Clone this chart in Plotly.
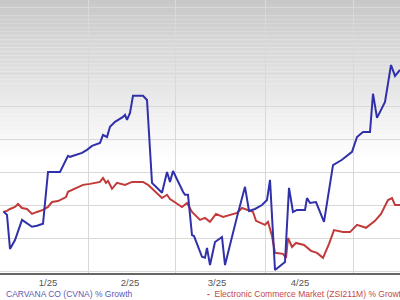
import plotly.graph_objects as go

# ---- data (trading-day index, % growth) ----
tick_labels = ["1/25", "2/25", "3/25", "4/25", "5/25"]
tick_days = [12, 32.5, 54.25, 75, 98]
grid_days = [0, 22, 43.75, 66.25, 88.25]

cvna_day = [1.0, 1.75, 2.5, 3.75, 5.5, 6.25, 8.0, 9.25, 10.75, 12.0, 15.0, 17.0, 17.5, 20.5,
            21.75, 23.0, 25.0, 25.75, 26.75, 27.5, 28.75, 30.75, 31.25, 31.75, 32.5, 33.25,
            35.75, 36.75, 37.0, 37.5, 38.0, 40.5, 41.75, 42.5, 43.25, 45.75, 46.25, 47.0,
            48.0, 48.5, 50.5, 51.25, 51.75, 52.5, 53.75, 55.5, 56.25, 59.25, 61.25, 62.25,
            63.75, 65.5, 66.75, 67.5, 68.75, 71.25, 72.25, 73.25, 74.25, 76.25, 76.75, 77.5,
            79.0, 81.0, 82.25, 83.25, 85.5, 88.0, 89.25, 90.75, 92.5, 93.25, 94.25, 96.25,
            97.75, 98.75, 100.0]
cvna_pct = [0, -0.9, -11.2, -8.5, -2.4, -3.0, -4.5, -4.2, -3.6, 12.1, 12.1, 17.0, 16.7, 17.9,
            18.8, 20.0, 20.9, 23.3, 22.7, 25.8, 27.3, 28.8, 29.4, 27.9, 30.0, 35.2,
            35.2, 33.9, 29.4, 18.8, 8.8, 5.8, 12.1, 9.1, 12.4, 6.1, 5.2, 5.2,
            -7.0, -7.3, -13.6, -13.9, -10.9, -16.1, -9.1, -7.6, -16.1, -1.5, 7.6, 0.3,
            0.9, 2.1, 3.6, 9.7, -17.6, -15.2, 7.3, 0.0, 0.6, 0.6, 4.2, 2.7,
            3.0, -3.0, 7.3, 14.2, 15.8, 18.2, 22.7, 24.2, 24.2, 35.8, 28.5, 33.3,
            44.5, 41.2, 43.0]

ecom_day = [0.75, 1.75, 2.5, 3.75, 4.5, 5.5, 6.75, 8.0, 9.25, 10.75, 12.0, 13.0, 14.5, 15.5,
            16.5, 17.0, 19.25, 20.75, 22.5, 25.0, 25.75, 26.5, 27.0, 28.0, 29.25, 31.25,
            33.0, 35.75, 37.0, 39.25, 40.5, 41.75, 42.5, 44.0, 45.5, 46.75, 48.0, 50.0,
            51.25, 52.5, 54.0, 55.75, 57.5, 59.25, 60.5, 61.75, 63.25, 64.0, 66.25, 67.0,
            68.0, 68.75, 70.75, 71.5, 72.0, 73.0, 74.0, 76.0, 77.75, 79.25, 80.75, 82.25,
            83.5, 85.75, 87.5, 89.25, 91.5, 93.75, 95.25, 97.0, 98.0, 98.75, 100.0]
ecom_pct = [0, 0.3, 0.9, 1.5, 2.4, 1.2, 0.9, -0.6, 0, 0.6, 1.5, 3.0, 3.3, 3.9,
            4.5, 6.1, 7.3, 8.2, 8.5, 9.1, 10.3, 8.8, 9.4, 7.0, 8.8, 8.2,
            9.1, 9.1, 8.2, 5.8, 4.2, 5.2, 3.9, 2.7, 1.5, 2.7, 0, -2.4,
            -1.8, -3.0, -0.6, -1.5, -0.9, -0.3, 1.2, 0.6, 0, -2.7, -3.9, -3.0,
            -7.3, -12.4, -12.7, -13.9, -7.9, -10.6, -9.4, -10.0, -11.8, -12.4, -13.9, -9.7,
            -5.5, -6.1, -6.1, -3.9, -4.8, -2.7, -0.6, 3.6, 4.2, 2.1, 2.1]

series_names = ["CARVANA CO (CVNA) % Growth",
                "Electronic Commerce Market (ZSI211M) % Growth"]
line_colors = ["#3030ab", "#c23a3a"]
text_colors = ["#5a5ab4", "#c44848"]

fig = go.Figure()
fig.add_trace(go.Scatter(x=ecom_day, y=ecom_pct, mode="lines", name=series_names[1],
                         line=dict(color=line_colors[1], width=2)))
fig.add_trace(go.Scatter(x=cvna_day, y=cvna_pct, mode="lines", name=series_names[0],
                         line=dict(color=line_colors[0], width=2)))

# background gradient (gray at top fading to white)
shapes = []
n = 40
top, bottom = 1.0, 0.42
for i in range(n):
    y0 = top - (top - bottom) * i / n
    y1 = top - (top - bottom) * (i + 1) / n
    c = int(200 + (255 - 200) * (i + 0.5) / n)
    shapes.append(dict(type="rect", xref="paper", yref="paper", x0=0, x1=1, y0=y1, y1=y0,
                       fillcolor=f"rgb({c},{c},{c})", line=dict(width=0), layer="below"))

fig.update_layout(
    width=400, height=300,
    margin=dict(l=0, r=0, t=0, b=27),
    paper_bgcolor="white",
    plot_bgcolor="rgba(0,0,0,0)",
    showlegend=False,
    shapes=shapes,
    font=dict(family="Arial, Liberation Sans, sans-serif"),
    xaxis=dict(range=[0, 100], tickmode="array", tickvals=tick_days, ticktext=tick_labels,
               showgrid=False, zeroline=False, showline=True, linecolor="#666666",
               linewidth=2, ticks="",
               tickfont=dict(size=9.5, color="#555555"),
               minor=dict(tickmode="array", tickvals=grid_days, showgrid=True,
                          gridcolor="#d9d9d9", gridwidth=1, ticks="")),
    yaxis=dict(range=[-18.5, 64.2], tickmode="linear", tick0=1.85, dtick=10,
               showgrid=True, gridcolor="#d9d9d9", gridwidth=1, zeroline=False,
               showticklabels=False, showline=False),
    annotations=[
        dict(text=series_names[0], xref="paper", yref="paper", x=0.01, y=-0.077,
             xanchor="left", yanchor="middle", showarrow=False,
             font=dict(size=8.5, color=text_colors[0])),
        dict(text="<b>-</b>  " + series_names[1], xref="paper", yref="paper", x=0.512,
             y=-0.077, xanchor="left", yanchor="middle", showarrow=False,
             font=dict(size=8.5, color=text_colors[1])),
    ],
)

fig.write_html("out.html")
